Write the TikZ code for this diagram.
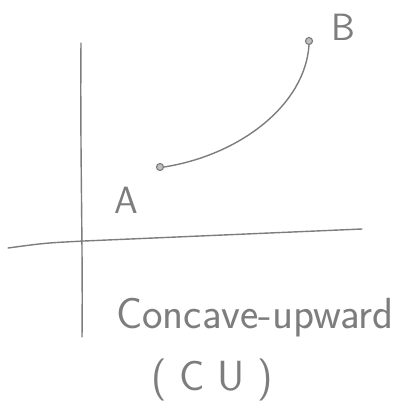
\documentclass[tikz,border=0pt]{standalone}
\usepackage{tikz}
\usepackage{xcolor}
\usetikzlibrary{positioning, calc}
\definecolor{cPencil}{RGB}{125,125,125}
\tikzset{
	axis/.style     ={cPencil, line width=1pt, line cap=round},
	curvepath/.style={cPencil, line width=1pt, line cap=round},
	endpt/.style    ={circle, draw=cPencil, fill=cPencil!50, line width=0.8pt, minimum size=5pt, inner sep=0pt},
	lbl/.style      ={text=cPencil, font=\sffamily\fontsize{27}{30}\selectfont, inner sep=0pt},
}

\begin{document}
\begin{tikzpicture}[x=0.025cm, y=-0.025cm]
	\useasboundingbox (0,0) rectangle (399,403);
	% axes
	\draw[axis] (81,43) .. controls (80,150) and (83,250) .. (82,337);
	\draw[axis] (8,248) .. controls (45,243) .. (84,241) -- (362,229);
	% end points of the arc
	\node[endpt] (ptA) at (160,167) {};
	\node[endpt] (ptB) at (309,41) {};
	\draw[curvepath] (ptA.east) .. controls (240,155) and (305,105) .. (ptB.south);
	\node[lbl] (labA) at (126,200) {A};
	\node[lbl] (labB) at (343,27) {B};
	% caption
	\node[lbl, font=\sffamily\fontsize{31}{34}\selectfont] (cap) at (255,318) {Concave-upward};
	\node[lbl, font=\sffamily\fontsize{30}{34}\selectfont] (capcu) at (212,380) {(\hspace{0.3em}C\hspace{0.3em}U\hspace{0.3em})};
\end{tikzpicture}
\end{document}
